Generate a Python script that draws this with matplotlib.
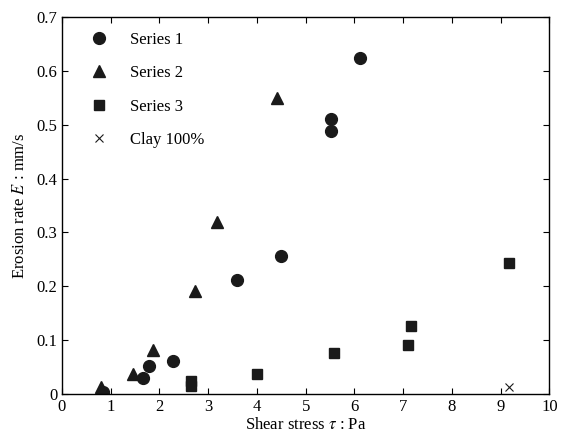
import numpy as np
import matplotlib
matplotlib.use("Agg")
import matplotlib.pyplot as plt

plt.rcParams['font.family'] = ['Liberation Serif', 'DejaVu Serif']
plt.rcParams['mathtext.fontset'] = 'stix'

# data
s1_x = [0.85, 1.66, 1.79, 2.27, 3.59, 4.50, 5.51, 5.51, 6.11]
s1_y = [0.005, 0.031, 0.052, 0.062, 0.211, 0.257, 0.510, 0.488, 0.623]
s2_x = [0.79, 1.46, 1.87, 2.72, 3.17, 4.41]
s2_y = [0.014, 0.038, 0.083, 0.191, 0.319, 0.549]
s3_x = [2.65, 2.65, 3.99, 5.57, 7.10, 7.16, 9.16]
s3_y = [0.016, 0.024, 0.038, 0.076, 0.091, 0.127, 0.244]
clay_x = [9.17]
clay_y = [0.014]

fig = plt.figure(figsize=(5.61, 4.42), dpi=100)
ax = fig.add_axes([0.1105, 0.108, 0.869, 0.854])

mc = '#1a1a1a'
ax.plot(s1_x, s1_y, 'o', color=mc, markersize=8.5, linestyle='none', label='Series 1')
ax.plot(s2_x, s2_y, '^', color=mc, markersize=8.5, linestyle='none', label='Series 2')
ax.plot(s3_x, s3_y, 's', color=mc, markersize=6.5, linestyle='none', label='Series 3')
ax.plot(clay_x, clay_y, 'x', color=mc, markersize=6, markeredgewidth=0.8,
        linestyle='none', label='Clay 100%')

ax.set_xlim(0, 10)
ax.set_ylim(0, 0.7)
ax.set_xticks(np.arange(0, 11, 1))
ax.set_yticks(np.arange(0, 0.71, 0.1))
ax.set_yticklabels(['0', '0.1', '0.2', '0.3', '0.4', '0.5', '0.6', '0.7'])
ax.tick_params(direction='in', top=True, right=True, labelsize=12, length=4, width=0.8)
for sp in ax.spines.values():
    sp.set_linewidth(1.0)

ax.set_xlabel(r'Shear stress $\tau$ : Pa', fontsize=12, labelpad=1)
ax.set_ylabel(r'Erosion rate $E$ : mm/s', fontsize=12, labelpad=6)

ax.legend(loc='upper left', frameon=False, fontsize=12, labelspacing=1.05,
          handletextpad=0.9, borderaxespad=0.5, numpoints=1,
          bbox_to_anchor=(0.01, 1.0))

fig.savefig('out.png', dpi=100)
